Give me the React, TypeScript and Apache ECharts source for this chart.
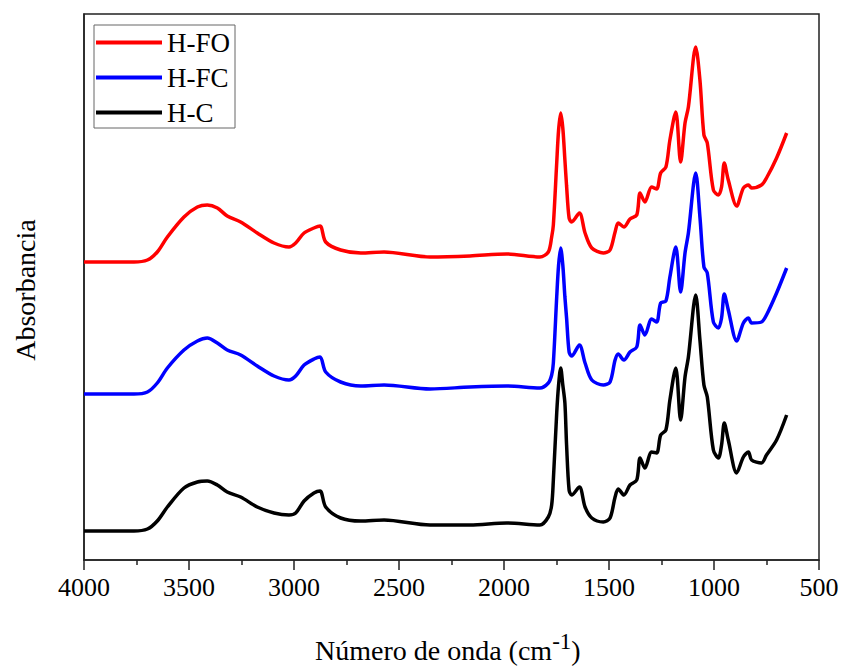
import React, { useEffect, useRef } from "react";
import * as echarts from "echarts";

const wavenumbers = [
  4000, 3762, 3698, 3651, 3603, 3524, 3460, 3413, 3365, 3318, 3254, 3175, 3095, 3024, 2992,
  2952, 2905, 2876, 2849, 2778, 2682, 2571, 2352, 2162, 1987, 1829, 1789, 1773, 1765, 1749,
  1740, 1730, 1720, 1710, 1702, 1690, 1678, 1641, 1614, 1582, 1527, 1495, 1471, 1456, 1429,
  1400, 1368, 1352, 1329, 1297, 1273, 1254, 1229, 1210, 1182, 1159, 1138, 1122, 1087, 1067,
  1048, 1032, 1003, 979, 964, 951, 932, 892, 860, 836, 821, 774, 750, 702, 654,
];

const hFO = [
  2.98, 2.98, 3.0, 3.08, 3.23, 3.43, 3.53, 3.55, 3.52, 3.44, 3.38, 3.27, 3.17, 3.13, 3.17,
  3.27, 3.32, 3.34, 3.18, 3.1, 3.07, 3.08, 3.03, 3.04, 3.06, 3.03, 3.08, 3.23, 3.35, 3.97,
  4.3, 4.47, 4.32, 4.0, 3.74, 3.42, 3.38, 3.47, 3.27, 3.12, 3.07, 3.1, 3.28, 3.37, 3.33,
  3.41, 3.45, 3.67, 3.58, 3.73, 3.71, 3.87, 3.93, 4.2, 4.48, 3.98, 4.37, 4.53, 5.13, 4.8,
  4.25, 4.17, 3.7, 3.65, 3.73, 3.97, 3.8, 3.54, 3.72, 3.75, 3.72, 3.75, 3.82, 4.02, 4.27,
];

const hFC = [
  1.66, 1.66, 1.68, 1.77, 1.92, 2.1, 2.19, 2.22, 2.17, 2.1, 2.05, 1.94, 1.84, 1.8, 1.84,
  1.95, 2.01, 2.03, 1.88, 1.78, 1.74, 1.75, 1.71, 1.73, 1.74, 1.72, 1.77, 1.85, 1.97, 2.63,
  2.95, 3.12, 2.95, 2.63, 2.42, 2.08, 2.04, 2.15, 1.97, 1.8, 1.75, 1.78, 2.0, 2.06, 2.0,
  2.08, 2.13, 2.35, 2.25, 2.41, 2.38, 2.57, 2.59, 2.83, 3.13, 2.68, 3.07, 3.27, 3.87, 3.43,
  2.93, 2.87, 2.38, 2.32, 2.42, 2.66, 2.5, 2.19, 2.37, 2.42, 2.37, 2.38, 2.45, 2.67, 2.92,
];

const hC = [
  0.29, 0.29, 0.31, 0.39, 0.53, 0.72, 0.78, 0.79, 0.75, 0.68, 0.63, 0.53, 0.47, 0.45, 0.47,
  0.59, 0.67, 0.69, 0.53, 0.42, 0.39, 0.4, 0.35, 0.35, 0.37, 0.35, 0.43, 0.55, 0.8, 1.47,
  1.75, 1.92, 1.75, 1.57, 1.15, 0.7, 0.65, 0.73, 0.53, 0.42, 0.38, 0.42, 0.63, 0.71, 0.65,
  0.75, 0.8, 1.02, 0.92, 1.08, 1.07, 1.25, 1.3, 1.6, 1.92, 1.4, 1.83, 2.03, 2.65, 2.2,
  1.75, 1.63, 1.1, 1.02, 1.15, 1.37, 1.2, 0.87, 1.03, 1.08, 1.0, 0.97, 1.05, 1.2, 1.45,
];

const seriesNames = ["H-FO", "H-FC", "H-C"];
const seriesColors = ["#ff0000", "#0000ff", "#000000"];
const seriesValues = [hFO, hFC, hC];

const xMin = 500;
const xMax = 4000;
const xInterval = 500;
const yMin = 0;
const yMax = 5.46;

const serif = "'Liberation Serif', 'Times New Roman', serif";

export default function App() {
  const ref = useRef<HTMLDivElement>(null);

  useEffect(() => {
    if (!ref.current) return;
    const chart = echarts.init(ref.current, null, { renderer: "svg" });
    const series = seriesNames.map((name, i) => ({
      name,
      type: "line",
      showSymbol: false,
      smooth: 0.3,
      data: wavenumbers.map((w, j) => [w, seriesValues[i][j]]),
      lineStyle: { color: seriesColors[i], width: 3.5 },
      itemStyle: { color: seriesColors[i] },
    }));
    chart.setOption({
      animation: false,
      backgroundColor: "#fff",
      grid: {
        left: 84,
        right: 23,
        top: 14,
        bottom: 111,
        show: true,
        borderColor: "#222",
        borderWidth: 1.5,
      },
      legend: {
        left: 94,
        top: 25,
        orient: "vertical",
        icon: "rect",
        itemWidth: 66,
        itemHeight: 4,
        itemGap: 8,
        padding: [4, 5, 2, 2],
        borderColor: "#666",
        borderWidth: 1,
        textStyle: { fontFamily: serif, fontSize: 27, color: "#000" },
        data: seriesNames,
      },
      xAxis: {
        type: "value",
        inverse: true,
        min: xMin,
        max: xMax,
        interval: xInterval,
        axisLine: { show: true, lineStyle: { color: "#222", width: 1.5 } },
        axisTick: { show: true, inside: false, length: 10, lineStyle: { color: "#222", width: 1.5 } },
        minorTick: { show: true, splitNumber: 2, length: 5, lineStyle: { color: "#222", width: 1.5 } },
        splitLine: { show: false },
        axisLabel: {
          fontFamily: serif,
          fontSize: 26,
          color: "#000",
          margin: 14,
          formatter: (v: number) => String(v),
        },
      },
      yAxis: {
        type: "value",
        min: yMin,
        max: yMax,
        axisLine: { show: true, lineStyle: { color: "#222", width: 1.5 } },
        axisTick: { show: false },
        axisLabel: { show: false },
        splitLine: { show: false },
      },
      graphic: [
        {
          type: "text",
          left: 315,
          top: 630,
          style: {
            text: "Número de onda (cm{sup|-1}{n|)}",
            fontFamily: serif,
            fontSize: 28,
            fill: "#000",
            rich: {
              sup: { fontFamily: serif, fontSize: 23, verticalAlign: "top", padding: [0, 0, 18, 0], fill: "#000" },
              n: { fontFamily: serif, fontSize: 28, fill: "#000" },
            },
          },
        },
        {
          type: "text",
          x: 25,
          y: 290,
          rotation: Math.PI / 2,
          style: {
            text: "Absorbancia",
            fontFamily: serif,
            fontSize: 28,
            fill: "#000",
            align: "center",
            verticalAlign: "middle",
          },
        },
      ],
      series,
    });
    return () => chart.dispose();
  }, []);

  return (
    <div
      ref={ref}
      style={{ position: "absolute", left: 0, top: 0, width: 842, height: 671 }}
    />
  );
}
